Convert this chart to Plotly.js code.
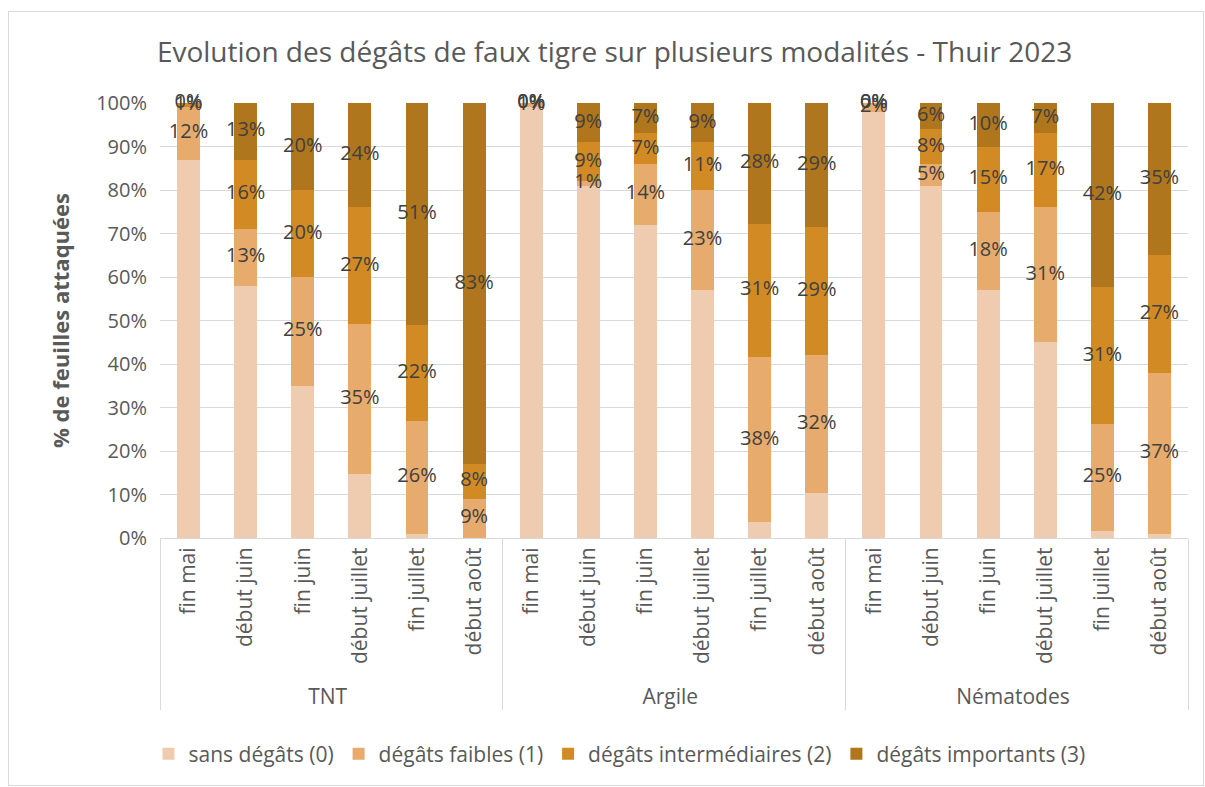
<!DOCTYPE html>
<html>
<head>
<meta charset="utf-8">
<script src="https://cdn.plot.ly/plotly-3.0.1.min.js"></script>
<style>
html,body{margin:0;padding:0;background:#fff;}
#wrap{position:relative;width:1205px;height:787px;}
#chart{width:1205px;height:787px;}
#frame{position:absolute;left:8px;top:11px;width:1194px;height:773px;border:1px solid #d9d9d9;pointer-events:none;}
</style>
</head>
<body>
<div id="wrap"><div id="chart"></div><div id="frame"></div></div>
<script>
const groups = ["TNT", "Argile", "Nématodes"];
const periods = ["fin mai", "début juin", "fin juin", "début juillet", "fin juillet", "début août"];
const seriesNames = ["sans dégâts (0)", "dégâts faibles (1)", "dégâts intermédiaires (2)", "dégâts importants (3)"];
const colors = ["#EFCCAF", "#E6AB6D", "#D28B24", "#AF761D"];

// values in %, per group, in period order
const sansDegats = [
  87, 58, 35, 14.6, 1, 0,
  99, 81, 72, 57, 3.6, 10.4,
  98, 81, 57, 45, 1.6, 1
];
const degatsFaibles = [
  12, 13, 25, 34.6, 26, 9,
  1, 1, 14, 23, 38, 31.7,
  2, 5, 18, 31, 24.7, 37
];
const degatsIntermediaires = [
  1, 16, 20, 26.8, 22, 8,
  0, 9, 7, 11, 30.7, 29.3,
  0, 8, 15, 17, 31.3, 27
];
const degatsImportants = [
  0, 13, 20, 24, 51, 83,
  0, 9, 7, 9, 27.7, 28.6,
  0, 6, 10, 7, 42.4, 35
];
const allSeries = [sansDegats, degatsFaibles, degatsIntermediaires, degatsImportants];
const showLabel = [false, true, true, true];

const xGroup = [], xPeriod = [];
groups.forEach(g => periods.forEach(p => { xGroup.push(g); xPeriod.push(p); }));
const x = [xGroup, xPeriod];

const font = "Open Sans, Noto Sans, sans-serif";
const traces = allSeries.map((vals, i) => ({
  type: "bar",
  name: seriesNames[i],
  x: x,
  y: vals,
  marker: {color: colors[i], line: {width: 0}},
  hoverinfo: "y+name"
}));

// data label positions (segment centres)
const cum = new Array(xGroup.length).fill(0);
allSeries.forEach((vals, i) => {
  const ys = [], txt = [];
  vals.forEach((v, k) => {
    ys.push(cum[k] + v / 2);
    txt.push(Math.round(v) + "%");
    cum[k] += v;
  });
  if (showLabel[i]) {
    traces.push({
      type: "scatter", mode: "text", x: x, y: ys, text: txt,
      textposition: "middle center",
      textfont: {family: font, size: 20, color: "#404040"},
      showlegend: false, hoverinfo: "skip", cliponaxis: false
    });
  }
});

const layout = {
  width: 1205, height: 787,
  margin: {l: 160, r: 17, t: 103, b: 247},
  paper_bgcolor: "#fff", plot_bgcolor: "#fff",
  barmode: "stack",
  bargap: 0.6,
  font: {family: font, color: "#595959"},
  title: {text: "Evolution des dégâts de faux tigre sur plusieurs modalités - Thuir 2023",
          font: {family: font, size: 28, color: "#595959"},
          xref: "container", x: 0.51, xanchor: "center", yref: "container", y: 0.934, yanchor: "middle"},
  xaxis: {
    type: "multicategory",
    automargin: false,
    range: [-0.5, xPeriod.length - 0.5],
    tickangle: -90,
    tickfont: {family: font, size: 21, color: "#595959"},
    showline: true, linecolor: "#d9d9d9", linewidth: 1,
    showdividers: true, dividercolor: "#d9d9d9", dividerwidth: 1,
    ticks: "", showgrid: false
  },
  yaxis: {
    automargin: false,
    range: [0, 100], dtick: 10, ticksuffix: "%",
    tickfont: {family: font, size: 20, color: "#595959"},
    ticklabelstandoff: 12,
    gridcolor: "#d9d9d9", gridwidth: 1, zeroline: false, showline: false,
    title: {text: "% de feuilles attaquées", standoff: 20,
            font: {family: font, size: 22, color: "#595959", weight: "bold"}}
  },
  legend: {orientation: "h", x: 0.447, xanchor: "center", y: -0.497, yanchor: "middle",
           font: {family: font, size: 21, color: "#595959"}, traceorder: "normal", itemwidth: 30},
  showlegend: true
};

Plotly.newPlot("chart", traces, layout, {displayModeBar: false, staticPlot: true});
</script>
</body>
</html>
